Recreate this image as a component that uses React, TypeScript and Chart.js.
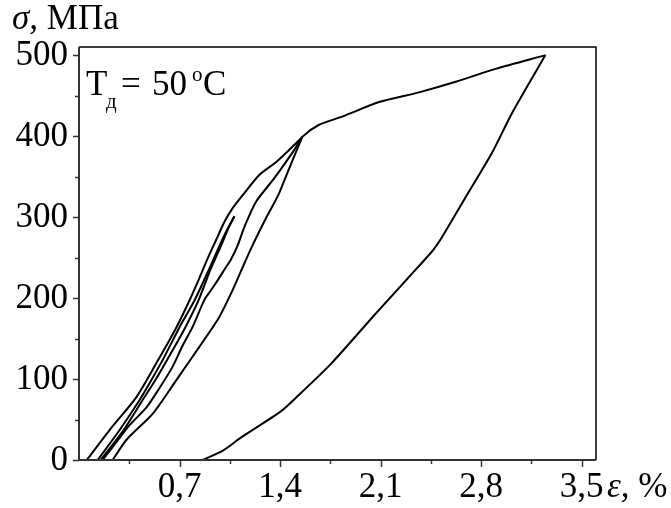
import React, { useEffect, useRef } from "react";
import { Chart, registerables } from "chart.js";

Chart.register(...registerables);

// Loading to 300 MPa and unloading
const load300Strain = [0.13, 0.283, 0.422, 0.505, 0.596, 0.7, 0.804, 0.894, 0.957, 1.019, 1.082];
const load300Stress = [0, 37, 74, 99, 128, 164, 197, 231, 256, 280, 301];
const unload300Strain = [1.082, 1.04, 0.985, 0.915, 0.832, 0.741, 0.644, 0.533, 0.443, 0.311, 0.151];
const unload300Stress = [301, 286, 263, 235, 197, 164, 133, 99, 74, 37, 0];

// Loading to 400 MPa and unloading
const load400Strain = [0.054, 0.213, 0.401, 0.54, 0.679, 0.769, 0.839, 0.896, 0.966, 1.012, 1.07, 1.14, 1.255, 1.374, 1.441, 1.555];
const load400Stress = [0, 37, 78, 120, 164, 197, 225, 249, 276, 294, 311, 327, 352, 368, 379, 399];
const unload400Strain = [1.555, 1.522, 1.452, 1.39, 1.3, 1.2, 1.125, 1.065, 0.975, 0.839, 0.679, 0.517, 0.331, 0.234];
const unload400Stress = [399, 385, 355, 328, 298, 262, 232, 208, 176, 140, 99, 58, 25, 0];

// Loading to 500 MPa and unloading
const load500Strain = [0.165, 0.234, 0.352, 0.47, 0.561, 0.651, 0.721, 0.79, 0.874, 0.92, 0.955, 1.012, 1.059, 1.105, 1.152, 1.233, 1.36, 1.499, 1.555, 1.672, 1.832, 2.09, 2.368, 2.623, 2.9, 3.248];
const load500Stress = [0, 16, 43, 65, 89, 115, 141, 164, 198, 210, 219, 235, 248, 265, 288, 319, 348, 383, 399, 414, 424, 442, 454, 467, 483, 500];
const unload500Strain = [3.248, 3.014, 2.875, 2.694, 2.527, 2.465, 2.298, 2.062, 1.756, 1.523, 1.405, 1.122, 1.005, 0.86];
const unload500Stress = [500, 428, 379, 325, 275, 259, 226, 180, 119, 79, 60, 27, 12, 0];

// Axis ticks
const xMajorTicks = [0.7, 1.4, 2.1, 2.8, 3.5];
const xTickLabels = ["0,7", "1,4", "2,1", "2,8", "3,5"];
const xMinorTicks = [0.35, 1.05, 1.75, 2.45, 3.15];
const yMajorTicks = [0, 100, 200, 300, 400, 500];
const yTickLabels = ["0", "100", "200", "300", "400", "500"];
const yMinorTicks = [50, 150, 250, 350, 450];

const X_MIN = 0;
const X_MAX = 3.6;
const Y_MIN = 0;
const Y_MAX = 510;

const SERIF = '"Liberation Serif", "Times New Roman", serif';

function zip(xs: number[], ys: number[]) {
  return xs.map((x, i) => ({ x, y: ys[i] }));
}

function curve(xs: number[], ys: number[]) {
  return {
    data: zip(xs, ys),
    showLine: true,
    borderColor: "#000",
    borderWidth: 2,
    pointRadius: 0,
    tension: 0.25,
    fill: false,
    clip: false as any,
  };
}

const decorPlugin = {
  id: "decor",
  afterDraw(chart: any) {
    const ctx = chart.ctx as CanvasRenderingContext2D;
    const ca = chart.chartArea;
    const xs = chart.scales.x;
    const ys = chart.scales.y;
    ctx.save();
    // frame
    ctx.strokeStyle = "#000";
    ctx.lineWidth = 1.5;
    ctx.beginPath();
    ctx.moveTo(ca.left, ca.top);
    ctx.lineTo(ca.right, ca.top);
    ctx.lineTo(ca.right, ca.bottom);
    ctx.stroke();
    ctx.strokeStyle = "#333";
    ctx.lineWidth = 2;
    ctx.beginPath();
    ctx.moveTo(ca.left, ca.top);
    ctx.lineTo(ca.left, ca.bottom);
    ctx.lineTo(ca.right, ca.bottom);
    ctx.stroke();

    // ticks
    ctx.lineWidth = 1.5;
    const tick = (x1: number, y1: number, x2: number, y2: number) => {
      ctx.beginPath();
      ctx.moveTo(x1, y1);
      ctx.lineTo(x2, y2);
      ctx.stroke();
    };
    xMajorTicks.forEach((v) => {
      const p = Math.round(xs.getPixelForValue(v)) + 0.5;
      tick(p, ca.bottom, p, ca.bottom + 7);
    });
    xMinorTicks.forEach((v) => {
      const p = Math.round(xs.getPixelForValue(v)) + 0.5;
      tick(p, ca.bottom, p, ca.bottom + 4);
    });
    yMajorTicks.forEach((v) => {
      const p = Math.round(ys.getPixelForValue(v)) + 0.5;
      tick(ca.left - 6, p, ca.left, p);
    });
    yMinorTicks.forEach((v) => {
      const p = Math.round(ys.getPixelForValue(v)) + 0.5;
      tick(ca.left - 4, p, ca.left, p);
    });

    // tick labels
    ctx.fillStyle = "#000";
    ctx.font = `35px ${SERIF}`;
    ctx.textAlign = "center";
    ctx.textBaseline = "alphabetic";
    xMajorTicks.forEach((v, i) => {
      ctx.fillText(xTickLabels[i], xs.getPixelForValue(v), 497);
    });
    ctx.textAlign = "right";
    ctx.textBaseline = "middle";
    yMajorTicks.forEach((v, i) => {
      ctx.fillText(yTickLabels[i], ca.left - 11, ys.getPixelForValue(v) + 1);
    });

    // axis titles
    ctx.textAlign = "left";
    ctx.textBaseline = "alphabetic";
    ctx.font = `italic 35px ${SERIF}`;
    ctx.fillText("σ,", 12, 29);
    let w = ctx.measureText("σ, ").width;
    ctx.font = `35px ${SERIF}`;
    ctx.fillText("МПа", 12 + w, 29);

    ctx.font = `italic 35px ${SERIF}`;
    ctx.fillText("ε,", 607, 497);
    w = ctx.measureText("ε, ").width;
    ctx.font = `35px ${SERIF}`;
    ctx.fillText("%", 607 + w, 497);

    // annotation T_д = 50 °C
    ctx.font = `35px ${SERIF}`;
    ctx.fillText("T", 86, 95);
    ctx.font = `21px ${SERIF}`;
    ctx.fillText("д", 106, 108);
    ctx.font = `35px ${SERIF}`;
    ctx.fillText("=", 121, 95);
    ctx.fillText("50", 152, 95);
    ctx.font = `21px ${SERIF}`;
    ctx.fillText("o", 192, 81);
    ctx.font = `35px ${SERIF}`;
    ctx.fillText("C", 203, 95);
    ctx.restore();
  },
};

export default function App() {
  const ref = useRef<HTMLCanvasElement>(null);
  useEffect(() => {
    if (!ref.current) return;
    const chart = new Chart(ref.current, {
      type: "scatter",
      data: {
        datasets: [
          curve(load300Strain, load300Stress),
          curve(unload300Strain, unload300Stress),
          curve(load400Strain, load400Stress),
          curve(unload400Strain, unload400Stress),
          curve(load500Strain, load500Stress),
          curve(unload500Strain, unload500Stress),
        ] as any,
      },
      options: {
        animation: false,
        responsive: false,
        devicePixelRatio: 1,
        layout: { padding: { left: 79, top: 47, right: 75, bottom: 48 } },
        plugins: { legend: { display: false }, tooltip: { enabled: false } },
        scales: {
          x: { type: "linear", min: X_MIN, max: X_MAX, display: false },
          y: { type: "linear", min: Y_MIN, max: Y_MAX, display: false },
        },
      },
      plugins: [decorPlugin],
    });
    return () => chart.destroy();
  }, []);
  return (
    <div style={{ position: "absolute", left: 0, top: 0, width: 671, height: 508, background: "#fff" }}>
      <canvas ref={ref} width={671} height={508} style={{ display: "block" }} />
    </div>
  );
}
